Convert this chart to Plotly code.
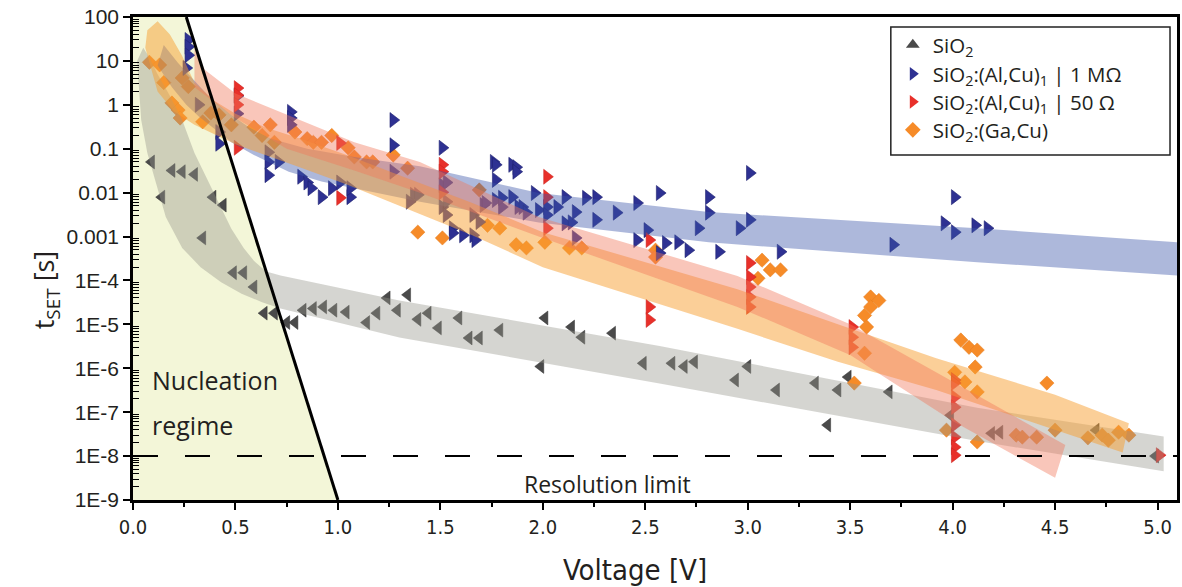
import plotly.graph_objects as go

# ---------------- data ----------------
# SiO2
sio2_V = [0.09, 0.14, 0.19, 0.24, 0.30, 0.34, 0.39, 0.44, 0.49, 0.54, 0.59, 0.64, 0.69, 0.75, 0.79,
          0.83, 0.88, 0.93, 0.98, 1.04, 1.14, 1.19, 1.24, 1.29, 1.34, 1.39, 1.44, 1.49, 1.59, 1.64,
          1.69, 1.79, 2.01, 1.99, 2.14, 2.19, 2.34, 2.49, 2.63, 2.69, 2.74, 3.00, 2.94, 3.14, 3.33,
          3.44, 3.49, 3.39, 3.69, 3.99, 4.19, 4.23, 4.70, 4.99]
sio2_t = [5.0e-2, 7.9e-3, 3.2e-2, 3.0e-2, 2.6e-2, 9.3e-4, 7.9e-3, 5.2e-3, 1.5e-4, 1.5e-4, 7.1e-5, 1.8e-5,
          1.8e-5, 1.1e-5, 1.1e-5, 2.1e-5, 2.3e-5, 2.5e-5, 2.1e-5, 1.9e-5, 1.1e-5, 1.8e-5, 4.0e-5, 2.1e-5,
          4.7e-5, 1.3e-5, 1.8e-5, 8.3e-6, 1.4e-5, 4.9e-6, 4.9e-6, 7.4e-6, 1.4e-5, 1.1e-6, 8.7e-6, 5.1e-6,
          6.3e-6, 1.3e-6, 1.3e-6, 1.1e-6, 1.4e-6, 1.1e-6, 5.4e-7, 3.2e-7, 4.6e-7, 3.2e-7, 6.3e-7, 5.1e-8,
          2.9e-7, 8.5e-8, 3.3e-8, 3.5e-8, 3.9e-8, 1.0e-8]

# SiO2:(Al,Cu)1 | 1 MOhm
alcu1M_V = [0.27, 0.27, 0.27, 0.26, 0.32, 0.42, 0.42, 0.51, 0.51, 0.66, 0.66, 0.66, 0.71, 0.77, 0.77,
            0.77, 0.82, 0.85, 0.87, 0.92, 0.97, 1.01, 1.06, 1.06, 1.27, 1.27, 1.27, 1.37, 1.39, 1.35,
            1.51, 1.51, 1.51, 1.53, 1.53, 1.53, 1.56, 1.56, 1.61, 1.66, 1.66, 1.67, 1.69, 1.71, 1.72,
            1.76, 1.77, 1.77, 1.77, 1.80, 1.80, 1.85, 1.85, 1.87, 1.87, 1.88, 1.90, 1.92, 1.96, 1.98,
            2.02, 2.02, 2.07, 2.11, 2.11, 2.14, 2.16, 2.16, 2.21, 2.26, 2.26, 2.36, 2.46, 2.46, 2.51,
            2.57, 2.57, 2.60, 2.66, 2.71, 2.76, 2.81, 2.81, 2.86, 2.96, 3.01, 3.01, 3.16, 3.71, 3.96,
            4.01, 4.01, 4.11, 4.17]
alcu1M_t = [30, 21, 13.5, 6.9, 1.0, 0.24, 0.13, 1.6, 0.63, 0.083, 0.050, 0.025, 0.050, 0.69, 0.50,
            0.35, 0.023, 0.017, 0.0126, 0.0079, 0.0126, 0.017, 0.0079, 0.0126, 0.45, 0.12, 0.030, 0.0089,
            0.0089, 0.0062, 0.105, 0.0148, 0.0047, 0.017, 0.0062, 0.0031, 0.00155, 0.0012, 0.00107, 0.0031,
            0.00107, 8.3e-4, 0.00214, 0.0052, 0.0058, 0.050, 0.043, 0.0195, 0.0068, 0.0047, 0.0076, 0.0079,
            0.043, 0.038, 0.030, 0.0047, 0.0047, 0.0035, 0.0098, 0.0040, 0.0047, 0.0031, 0.0047, 0.0079,
            0.0020, 0.0021, 0.0036, 9.3e-4, 0.0076, 0.0079, 0.0024, 0.0035, 0.0058, 8.3e-4, 0.0014,
            0.0098, 4.2e-4, 7.1e-4, 7.4e-4, 4.9e-4, 0.00155, 0.0079, 0.0035, 4.5e-4, 0.00155, 0.028,
            0.0024, 4.5e-4, 6.5e-4, 0.0020, 0.0079, 0.00126, 0.0018, 0.00155]

# SiO2:(Al,Cu)1 | 50 Ohm
alcu50_V = [0.51, 0.51, 0.51, 0.51, 1.01, 1.01, 1.51, 1.51, 1.51, 2.02, 2.02, 2.02, 2.52, 2.52, 2.52,
            3.01, 3.01, 3.01, 3.01, 3.01, 3.51, 3.51, 3.51, 4.01, 4.01, 4.01, 4.01, 4.01, 4.01, 4.01,
            4.01, 5.01]
alcu50_t = [2.4, 1.66, 1.0, 0.105, 0.135, 0.0076, 0.043, 0.030, 0.0102, 0.023, 0.0079, 0.00155, 8.3e-4,
            2.5e-5, 1.26e-5, 2.5e-4, 1.2e-4, 7.1e-5, 4.2e-5, 2.5e-5, 8.7e-6, 5.1e-6, 3.0e-6, 5.4e-7,
            4.6e-7, 2.2e-7, 1.3e-7, 5.1e-8, 2.7e-8, 1.6e-8, 1.05e-8, 1.05e-8]

# SiO2:(Ga,Cu)
gacu_V = [0.08, 0.13, 0.15, 0.19, 0.22, 0.23, 0.24, 0.27, 0.34, 0.38, 0.42, 0.48, 0.59, 0.63, 0.67,
          0.69, 0.79, 0.85, 0.88, 0.92, 0.97, 1.05, 1.08, 1.14, 1.17, 1.27, 1.34, 1.39, 1.51, 1.69,
          1.73, 1.79, 1.87, 1.92, 2.01, 2.13, 2.19, 2.55, 2.55, 3.05, 3.07, 3.11, 3.16, 3.52, 3.57,
          3.57, 3.58, 3.60, 3.60, 3.64, 3.97, 4.01, 4.04, 4.06, 4.08, 4.11, 4.12, 4.12, 4.12, 4.31,
          4.34, 4.41, 4.46, 4.50, 4.66, 4.73, 4.76, 4.81, 4.86]
gacu_t = [9.3, 8.1, 3.2, 1.1, 0.76, 0.50, 4.1, 2.6, 0.41, 0.65, 0.59, 0.35, 0.31, 0.20, 0.35, 0.14,
          0.24, 0.17, 0.14, 0.14, 0.20, 0.105, 0.065, 0.050, 0.050, 0.072, 0.036, 0.00126, 9.3e-4,
          0.0115, 0.0018, 0.00155, 6.5e-4, 5.5e-4, 7.4e-4, 5.5e-4, 5.5e-4, 4.9e-4, 3.4e-4, 1.12e-4,
          2.9e-4, 1.74e-4, 1.74e-4, 4.6e-7, 2.2e-6, 1.6e-5, 8.7e-6, 4.2e-5, 2.5e-5, 3.5e-5, 3.9e-8,
          8.1e-7, 4.4e-6, 4.9e-7, 3.0e-6, 1.07e-6, 2.6e-6, 2.9e-7, 2.1e-8, 3.0e-8, 2.7e-8, 2.7e-8,
          4.6e-7, 3.9e-8, 2.6e-8, 3.0e-8, 2.3e-8, 3.5e-8, 3.0e-8]

# guide bands (upper / lower edges)
band_sio2_up_V = [0.05, 0.08, 0.12, 0.18, 0.24, 0.30, 0.37, 0.43, 0.48, 0.54, 0.59, 0.65, 0.72, 1.30, 2.57, 4.12, 5.03]
band_sio2_up_t = [20, 12, 5.0, 1.6, 0.45, 0.08, 0.017, 4.5e-3, 1.5e-3, 5.5e-4, 2.8e-4, 1.6e-4, 1.3e-4,
                  3.5e-5, 3.2e-6, 1.26e-7, 2.8e-8]
band_sio2_lo_V = [0.02, 0.03, 0.04, 0.07, 0.11, 0.16, 0.24, 0.33, 0.43, 0.53, 0.63, 0.72, 1.30, 2.57, 4.12, 5.03]
band_sio2_lo_t = [10, 2.0, 0.45, 0.08, 0.017, 2.8e-3, 5.5e-4, 2.0e-4, 9.1e-5, 5.0e-5, 3.2e-5, 2.3e-5,
                  5.0e-6, 4.5e-7, 2.2e-8, 4.5e-9]

band_1M_up_V = [0.15, 0.22, 0.29, 0.38, 0.48, 0.57, 0.67, 0.85, 1.08, 1.40, 1.98, 2.81, 4.12, 5.095]
band_1M_up_t = [23, 9.0, 4.0, 1.4, 0.59, 0.30, 0.17, 0.10, 0.065, 0.040, 9.8e-3, 3.6e-3, 1.55e-3, 7.4e-4]
band_1M_lo_V = [0.12, 0.19, 0.26, 0.32, 0.38, 0.48, 0.59, 0.76, 0.92, 1.08, 1.40, 1.98, 2.81, 4.12, 5.095]
band_1M_lo_t = [7.9, 2.5, 1.0, 0.55, 0.32, 0.14, 0.072, 0.030, 0.018, 0.0126, 6.2e-3, 2.1e-3, 7.4e-4,
                2.6e-4, 1.3e-4]

band_ga_up_V = [0.07, 0.12, 0.18, 0.24, 0.30, 0.40, 0.50, 0.65, 0.80, 1.05, 1.30, 1.65, 2.00, 2.95,
                3.44, 3.92, 4.50, 4.86]
band_ga_up_t = [50, 80, 40, 13, 3.2, 1.2, 0.63, 0.30, 0.18, 0.07, 0.025, 6.0e-3, 1.26e-3, 6.3e-5,
                1.0e-5, 1.7e-6, 2.5e-7, 5.6e-8]
band_ga_lo_V = [0.06, 0.09, 0.12, 0.20, 0.30, 0.50, 0.80, 1.05, 1.30, 1.65, 2.00, 2.95, 3.44, 3.92,
                4.50, 4.83]
band_ga_lo_t = [20, 6.0, 2.0, 0.7, 0.35, 0.126, 0.040, 0.015, 5.0e-3, 1.1e-3, 2.0e-4, 7.9e-6, 1.4e-6,
                3.2e-7, 4.0e-8, 1.2e-8]

band_50_up_V = [0.30, 0.35, 0.50, 0.75, 1.08, 1.40, 1.98, 2.95, 3.50, 4.00, 4.55]
band_50_up_t = [20, 6.3, 1.8, 0.59, 0.14, 0.05, 2.8e-3, 1.26e-4, 1.0e-5, 5.0e-7, 1.8e-8]
band_50_lo_V = [0.30, 0.50, 0.75, 1.08, 1.40, 1.98, 2.95, 3.50, 4.00, 4.50]
band_50_lo_t = [2.5, 0.5, 0.1, 0.032, 0.01, 1.0e-3, 2.5e-5, 2.0e-6, 6.3e-8, 3.2e-9]

# nucleation boundary & resolution limit
nucl_line_V = [0.26, 1.0]
nucl_line_t = [100, 1e-9]
resolution_limit = 1e-8

X_RANGE = [0, 5.095]
Y_DECADES = list(range(2, -10, -1))
y_ticktext = ["100", "10", "1", "0.1", "0.01", "0.001", "1E-4", "1E-5", "1E-6", "1E-7", "1E-8", "1E-9"]
x_tickvals = [0, 0.5, 1.0, 1.5, 2.0, 2.5, 3.0, 3.5, 4.0, 4.5, 5.0]
x_minor_vals = [0.25, 0.75, 1.25, 1.75, 2.25, 2.75, 3.25, 3.75, 4.25, 4.75]

# ---------------- styles ----------------
C_GRAY = "#4a4a4a"
C_BLUE = "#2e3192"
C_RED = "#e8302a"
C_ORANGE = "#f68b28"

TXT = "#231f20"
SANS = "Open Sans, Noto Sans, sans-serif"
ARIAL = "Liberation Sans, Arial, sans-serif"
NARROW = "Liberation Sans Narrow, Arial Narrow, DejaVu Sans Condensed, sans-serif"

# plot-area pixel geometry (for paper coordinates of legend/labels)
PL, PT, PW, PH = 133, 17, 1047, 483


def px_x(px):
    return (px - PL) / PW


def px_y(py):
    return 1 - (py - PT) / PH


fig = go.Figure()

# nucleation regime area
fig.add_trace(go.Scatter(
    x=[X_RANGE[0], X_RANGE[0], nucl_line_V[0], nucl_line_V[1]],
    y=[nucl_line_t[1], nucl_line_t[0], nucl_line_t[0], nucl_line_t[1]],
    fill="toself", fillcolor="#f3f6d8", mode="lines", line=dict(width=0),
    showlegend=False, hoverinfo="skip"))

# data markers
fig.add_trace(go.Scatter(x=sio2_V, y=sio2_t, mode="markers", showlegend=False,
                         marker=dict(symbol="triangle-left", size=12, color=C_GRAY,
                                     line=dict(width=0.5, color="#333"))))
fig.add_trace(go.Scatter(x=gacu_V, y=gacu_t, mode="markers", showlegend=False,
                         marker=dict(symbol="diamond", size=11, color=C_ORANGE,
                                     line=dict(width=0.5, color="#e57d1e"))))
fig.add_trace(go.Scatter(x=alcu1M_V, y=alcu1M_t, mode="markers", showlegend=False,
                         marker=dict(symbol="triangle-right", size=13, color=C_BLUE,
                                     line=dict(width=0.6, color="#1f2170"))))
fig.add_trace(go.Scatter(x=alcu50_V, y=alcu50_t, mode="markers", showlegend=False,
                         marker=dict(symbol="triangle-right", size=13, color=C_RED,
                                     line=dict(width=0.5, color="#c8201c"))))


def band(up_V, up_t, lo_V, lo_t, color):
    return go.Scatter(x=list(up_V) + list(lo_V)[::-1], y=list(up_t) + list(lo_t)[::-1],
                      fill="toself", fillcolor=color, mode="lines",
                      line=dict(width=0, shape="linear"),
                      showlegend=False, hoverinfo="skip")


fig.add_trace(band(band_sio2_up_V, band_sio2_up_t, band_sio2_lo_V, band_sio2_lo_t, "rgba(150,150,140,0.40)"))
fig.add_trace(band(band_1M_up_V, band_1M_up_t, band_1M_lo_V, band_1M_lo_t, "rgba(60,85,170,0.42)"))
fig.add_trace(band(band_ga_up_V, band_ga_up_t, band_ga_lo_V, band_ga_lo_t, "rgba(248,160,50,0.5)"))
fig.add_trace(band(band_50_up_V, band_50_up_t, band_50_lo_V, band_50_lo_t, "rgba(240,120,90,0.42)"))

# nucleation boundary line and resolution limit
fig.add_trace(go.Scatter(x=nucl_line_V, y=nucl_line_t, mode="lines",
                         line=dict(color="black", width=3), showlegend=False, hoverinfo="skip"))
fig.add_trace(go.Scatter(x=X_RANGE, y=[resolution_limit, resolution_limit], mode="lines",
                         line=dict(color="black", width=2, dash="25px,27px"),
                         showlegend=False, hoverinfo="skip"))

# legend entries (one small legend per entry so spacing matches the reference)
legend_items = [
    ("SiO<sub>2</sub>", "triangle-up", C_GRAY, 45),
    ("SiO<sub>2</sub>:(Al,Cu)<sub>1</sub> | 1 MΩ", "triangle-right", C_BLUE, 74),
    ("SiO<sub>2</sub>:(Al,Cu)<sub>1</sub> | 50 Ω", "triangle-right", C_RED, 102),
    ("SiO<sub>2</sub>:(Ga,Cu)", "diamond", C_ORANGE, 130),
]
legend_layout = {}
for i, (name, sym, col, ypx) in enumerate(legend_items):
    key = "legend" if i == 0 else f"legend{i + 1}"
    fig.add_trace(go.Scatter(x=[None], y=[None], mode="markers", name=name, legend=key,
                             marker=dict(symbol=sym, size=11, color=col)))
    legend_layout[key] = dict(x=px_x(895), y=px_y(ypx), xanchor="left", yanchor="middle",
                              bgcolor="rgba(0,0,0,0)", borderwidth=0,
                              font=dict(family=SANS, size=20.5, color=TXT),
                              itemsizing="constant")

minor_vals = [m * 10.0 ** e for e in range(-9, 2) for m in range(2, 10)]

fig.update_layout(
    width=1182, height=587,
    margin=dict(l=PL, r=2, t=PT, b=87),
    paper_bgcolor="white", plot_bgcolor="white",
    font=dict(family=SANS, color=TXT),
    **legend_layout,
    shapes=[dict(type="rect", xref="paper", yref="paper",
                 x0=px_x(893), x1=px_x(1173), y0=px_y(155), y1=px_y(27),
                 fillcolor="white", line=dict(color="#222", width=1.5), layer="above")],
    xaxis=dict(range=X_RANGE, tickmode="array", tickvals=x_tickvals, tickformat=".1f",
               ticks="outside", ticklen=7, tickwidth=2, tickcolor="black",
               showline=True, linewidth=2.5, linecolor="black", mirror=True,
               showgrid=False, zeroline=False,
               tickfont=dict(family=NARROW, size=20, color=TXT),
               minor=dict(ticks="outside", ticklen=4, tickwidth=1.5, tickcolor="black",
                          tickmode="array", tickvals=x_minor_vals)),
    yaxis=dict(type="log", range=[-9, 2], tickmode="array",
               tickvals=[10.0 ** d for d in Y_DECADES], ticktext=y_ticktext,
               ticks="outside", ticklen=7, tickwidth=2, tickcolor="black",
               showline=True, linewidth=2.5, linecolor="black", mirror=True,
               showgrid=False, zeroline=False,
               tickfont=dict(family=ARIAL, size=21, color=TXT),
               minor=dict(ticks="inside", ticklen=6, tickwidth=1.3, tickcolor="black",
                          tickmode="array", tickvals=minor_vals)),
    annotations=[
        dict(text="Nucleation", xref="paper", yref="paper", x=px_x(150), y=px_y(380),
             xanchor="left", yanchor="middle", align="left", showarrow=False,
             font=dict(family=SANS, size=25, color=TXT)),
        dict(text="regime", xref="paper", yref="paper", x=px_x(150), y=px_y(425),
             xanchor="left", yanchor="middle", align="left", showarrow=False,
             font=dict(family=SANS, size=25, color=TXT)),
        dict(text="Resolution limit", xref="paper", yref="paper", x=px_x(609), y=px_y(484),
             xanchor="center", yanchor="middle", showarrow=False,
             font=dict(family=SANS, size=23, color=TXT)),
        dict(text="t<sub>SET</sub> [s]", xref="paper", yref="paper", x=px_x(45), y=px_y(290),
             xanchor="center", yanchor="middle", textangle=-90, showarrow=False,
             font=dict(family=SANS, size=27, color=TXT)),
        dict(text="Voltage [V]", xref="paper", yref="paper", x=px_x(636), y=px_y(570),
             xanchor="center", yanchor="middle", showarrow=False,
             font=dict(family=NARROW, size=29, color=TXT)),
    ],
)

fig.write_html("out.html")
